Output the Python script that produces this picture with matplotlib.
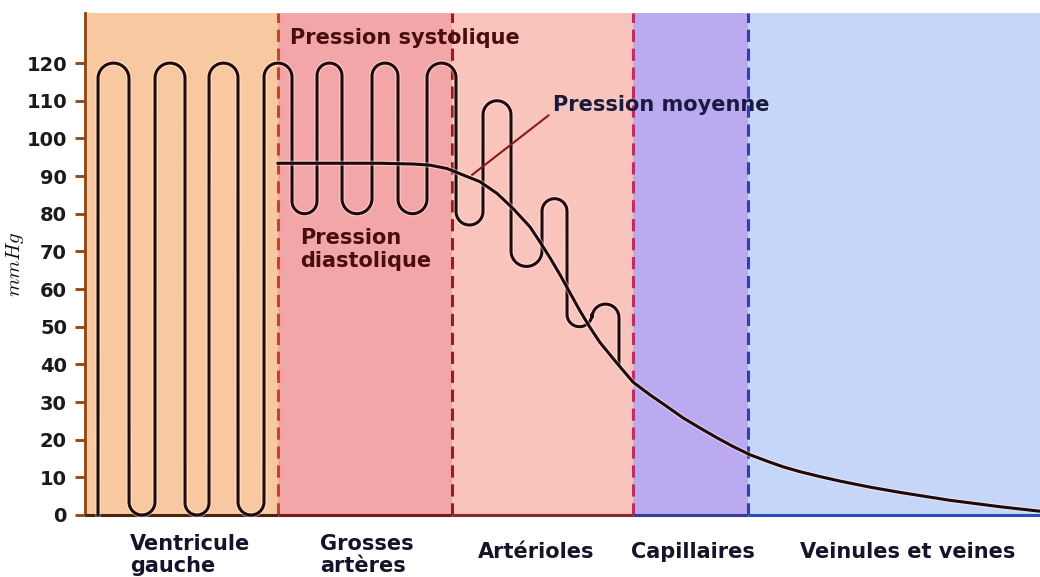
import numpy as np
import matplotlib
matplotlib.use("Agg")
import matplotlib.pyplot as plt
import matplotlib.patheffects as pe

plt.rcParams["mathtext.fontset"] = "cm"

# ---------------- data ----------------
region_names = ["Ventricule\ngauche", "Grosses\nartères", "Artérioles", "Capillaires", "Veinules et veines"]
region_bounds = [0, 193, 367, 548, 663, 955]          # schematic distance along the circuit

# pulsatile pressure trace (mmHg): successive turning loops between stroke positions
stroke_x = [13, 44, 70, 100, 124, 153, 179, 207, 232, 257, 287, 313, 342, 371,
            398, 426, 457, 482, 507, 534]
loop_p = [120, 0, 120, 0, 120, 0, 120, 80, 120, 80, 120, 80, 120, 77,
          110, 66, 84, 50, 56]
trace_start_p = 0
trace_end_p = 40

# mean pressure (mmHg)
mean_x = [193, 295, 328, 345, 362, 378, 395, 412, 428, 445, 455, 465, 475, 485,
          495, 505, 515, 532, 548, 565, 582, 598, 615, 632, 648, 665, 682, 698,
          715, 735, 755, 785, 815, 865, 915, 955]
mean_p = [93.4, 93.4, 93.2, 92.9, 92.0, 90.3, 88.5, 85.4, 81.4, 76.5, 72.5, 68.3,
          63.8, 59.0, 54.2, 49.8, 45.8, 40.3, 35.3, 31.9, 28.8, 25.8, 23.1, 20.5,
          18.2, 16.0, 14.3, 12.8, 11.5, 10.2, 9.0, 7.4, 6.0, 3.9, 2.2, 1.0]

yticks = list(range(0, 130, 10))

# ---------------- style ----------------
region_colors = ["#F8C9A0", "#F3A6A8", "#F8C4BC", "#BBAAF0", "#C6D6F8"]
divider_colors = ["#C8402E", "#9B1C1C", "#C02C6A", "#2B3FC0"]
baseline_colors = ["#4A2410", "#7A1A1A", "#8A2A2A", "#3A3A9A", "#3050B0"]
ink = "#220808"
FONT = ["DejaVu Sans"]

fig = plt.figure(figsize=(10.4, 5.77), dpi=100)
ax = fig.add_axes([85 / 1040, 62 / 577, 955 / 1040, 502 / 577])
ax.set_xlim(region_bounds[0], region_bounds[-1])
ax.set_ylim(0, 133.3)

# background bands
for i, c in enumerate(region_colors):
    ax.axvspan(region_bounds[i], region_bounds[i + 1], color=c, lw=0, zorder=0)

# dashed dividers
for b, c in zip(region_bounds[1:-1], divider_colors):
    ax.axvline(b, color=c, lw=2.2, ls=(0, (4, 2.2)), zorder=1)

# baseline segments
for i, c in enumerate(baseline_colors):
    ax.plot([region_bounds[i], region_bounds[i + 1]], [0, 0], color=c, lw=2.2,
            solid_capstyle="butt", clip_on=False, zorder=3)

# build the looping pressure trace
sx = ax.bbox.width / (region_bounds[-1] - region_bounds[0])
sy = ax.bbox.height / 133.3
xs, ys = [stroke_x[0]], [trace_start_p]
for i, p in enumerate(loop_p):
    xl, xr = stroke_x[i], stroke_x[i + 1]
    rx = (xr - xl) / 2.0
    ry = rx * sx / sy
    xc = (xl + xr) / 2.0
    if i % 2 == 0:
        t = np.linspace(np.pi, 0, 40)
        yc = p - ry
    else:
        t = np.linspace(np.pi, 2 * np.pi, 40)
        yc = p + ry
    xs.extend(xc + rx * np.cos(t))
    ys.extend(yc + ry * np.sin(t))
xs.append(stroke_x[-1])
ys.append(trace_end_p)

halo = [pe.Stroke(linewidth=3.8, foreground="white", alpha=0.45), pe.Normal()]
ax.plot(xs, ys, color=ink, lw=2.2, zorder=5, clip_on=False,
        solid_joinstyle="round", path_effects=halo)
ax.plot(mean_x, mean_p, color=ink, lw=2.2, zorder=5, clip_on=False,
        solid_joinstyle="round", path_effects=halo)

# annotations
ax.text(205, 126.6, "Pression systolique", fontsize=15, fontweight="bold",
        color="#4A0D0D", family=FONT, ha="left", va="center", zorder=6)
ax.text(215, 70.5, "Pression\ndiastolique", fontsize=15, fontweight="bold",
        color="#4A0D0D", family=FONT, ha="left", va="center", linespacing=1.15, zorder=6)
ax.annotate("Pression moyenne", xy=(387, 90.3), xytext=(468, 108.8),
            fontsize=15, fontweight="bold", color="#1A1A40", family=FONT,
            ha="left", va="center", zorder=6,
            arrowprops=dict(arrowstyle="-", color="#8B1A1A", lw=1.5,
                            relpos=(-0.02, 0.0), shrinkA=0, shrinkB=0))

# region labels below axis
label_x = [45, 235, 393, 546, 715]
label_y = [-10.6, -10.6, -9.8, -9.8, -9.8]
for name, lx, ly in zip(region_names, label_x, label_y):
    ax.text(lx, ly, name, fontsize=15, fontweight="bold", color="#141428",
            family=FONT, ha="left", va="center", linespacing=1.1, clip_on=False)

# axes styling
for s in ["top", "right", "bottom"]:
    ax.spines[s].set_visible(False)
ax.spines["left"].set_color("#8B4513")
ax.spines["left"].set_linewidth(2)
ax.set_xticks([])
ax.set_yticks(yticks)
ax.tick_params(axis="y", length=7, width=2, color="#8B4513", pad=6,
               labelsize=14, labelcolor="#1A1A1A")
for lab in ax.get_yticklabels():
    lab.set_fontweight("bold")
    lab.set_family(FONT)
ax.set_ylabel(r"$mmHg$", fontsize=15, color="#111111")
ax.yaxis.set_label_coords(-0.062, 0.5)

fig.savefig("out.png", dpi=100, facecolor="white")
